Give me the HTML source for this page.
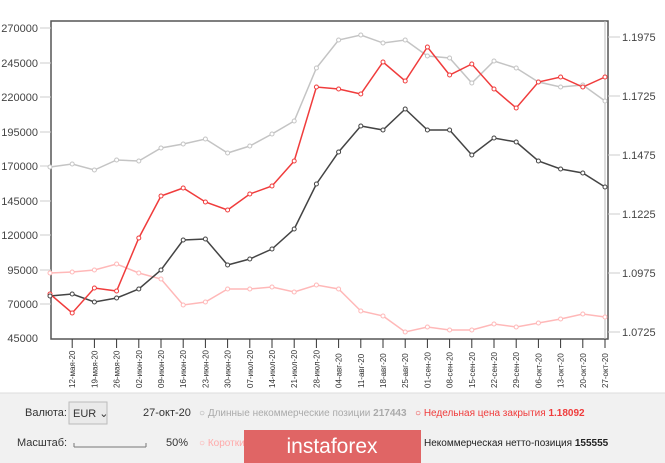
<!DOCTYPE html>
<html><head><meta charset="utf-8"><style>
body{margin:0;width:665px;height:463px;overflow:hidden;background:#fff;font-family:"Liberation Sans",sans-serif;}
svg{position:absolute;left:0;top:0}
</style></head><body>
<svg width="665" height="463" xmlns="http://www.w3.org/2000/svg" font-family="Liberation Sans, sans-serif">
<rect x="0" y="393" width="665" height="70" fill="#f1f1f1"/>
<line x1="0" y1="393" x2="665" y2="393" fill="none" stroke="#ddd"/>
<rect x="51" y="21" width="557" height="318" fill="#fff" stroke="#555" stroke-width="1.5"/>
<line x1="605" y1="21" x2="605" y2="339" stroke="#bbb"/>
<g font-size="11" fill="#444" text-anchor="end">
<text x="38" y="32">270000</text><text x="38" y="67">245000</text><text x="38" y="101">220000</text><text x="38" y="136">195000</text><text x="38" y="170">170000</text><text x="38" y="205">145000</text><text x="38" y="239">120000</text><text x="38" y="274">95000</text><text x="38" y="308">70000</text><text x="38" y="342">45000</text>
</g>
<g stroke="#ccc"><line x1="40" y1="28" x2="51" y2="28"/><line x1="40" y1="63" x2="51" y2="63"/><line x1="40" y1="97" x2="51" y2="97"/><line x1="40" y1="132" x2="51" y2="132"/><line x1="40" y1="166" x2="51" y2="166"/><line x1="40" y1="201" x2="51" y2="201"/><line x1="40" y1="235" x2="51" y2="235"/><line x1="40" y1="270" x2="51" y2="270"/><line x1="40" y1="304" x2="51" y2="304"/>
<line x1="608" y1="37" x2="620" y2="37"/><line x1="608" y1="96" x2="620" y2="96"/><line x1="608" y1="155" x2="620" y2="155"/><line x1="608" y1="214" x2="620" y2="214"/><line x1="608" y1="273" x2="620" y2="273"/><line x1="608" y1="332" x2="620" y2="332"/></g>
<g font-size="11" fill="#444">
<text x="622" y="41">1.1975</text><text x="622" y="100">1.1725</text><text x="622" y="159">1.1475</text><text x="622" y="218">1.1225</text><text x="622" y="277">1.0975</text><text x="622" y="336">1.0725</text>
</g>
<g id="ticks" stroke="#333"></g>
<g id="lbl" font-size="8" fill="#333"></g>
<polyline id="pk" fill="none" stroke="#ffb8b8" stroke-width="1.5"/>
<polyline id="gr" fill="none" stroke="#c4c4c4" stroke-width="1.5"/>
<polyline id="dk" fill="none" stroke="#444" stroke-width="1.5"/>
<polyline id="rd" fill="none" stroke="#f03c3c" stroke-width="1.5"/>
<g id="pts"></g>
<g font-size="11">
<text x="25" y="416" fill="#333">Валюта:</text>
<rect x="69" y="402" width="38" height="22" fill="#eaeaea" stroke="#bbb"/>
<text x="73" y="417" fill="#333">EUR ⌄</text>
<text x="143" y="416" fill="#333">27-окт-20</text>
<text x="199" y="416" fill="#aaa" font-size="10">○ Длинные некоммерческие позиции <tspan font-weight="bold">217443</tspan></text>
<text x="415" y="416" fill="#f03c3c" font-size="10">○ Недельная цена закрытия <tspan font-weight="bold">1.18092</tspan></text>
<text x="17" y="446" fill="#333">Масштаб:</text>
<path d="M74 447 H146 M74 443 v4 M146 443 v4" stroke="#777" fill="none"/>
<text x="166" y="446" fill="#333">50%</text>
<text x="199" y="446" fill="#ffaaaa" font-size="10">○ Коротки</text>
<rect x="244" y="430" width="177" height="33" fill="#e06565"/>
<text x="332" y="453" fill="#fff" font-size="21" text-anchor="middle">instaforex</text>
<text x="424" y="446" fill="#222" font-size="10">Некоммерческая нетто-позиция <tspan font-weight="bold">155555</tspan></text>
</g>
</svg>
<script>
const X=i=>50+i*22.2;
const d={
gr:[167,164,170,160,161,148,144,139,153,146,134,121,68,40,35,43,40,56,58,83,61,68,82,87,85,101],
rd:[294,313,288,291,238,196,188,202,210,194,186,161,87,89,94,62,81,47,75,64,89,108,82,77,87,77],
dk:[296,294,302,298,289,270,240,239,265,259,249,229,184,152,126,130,109,130,130,155,138,142,161,169,173,187],
pk:[273,272,270,264,273,279,305,302,289,289,287,292,285,289,311,316,332,327,330,330,324,327,323,319,314,317]};
const col={gr:"#c4c4c4",rd:"#f03c3c",dk:"#444",pk:"#ffb8b8"};
const ns="http://www.w3.org/2000/svg";let pts=document.getElementById("pts");
for(const k in d){document.getElementById(k).setAttribute("points",d[k].map((y,i)=>X(i)+","+y).join(" "));
d[k].forEach((y,i)=>{let c=document.createElementNS(ns,"circle");c.setAttribute("cx",X(i));c.setAttribute("cy",y);c.setAttribute("r",2);c.setAttribute("fill","#fff");c.setAttribute("stroke",col[k]);pts.appendChild(c);});}
const labs=["12-мая-20","19-мая-20","26-мая-20","02-июн-20","09-июн-20","16-июн-20","23-июн-20","30-июн-20","07-июл-20","14-июл-20","21-июл-20","28-июл-20","04-авг-20","11-авг-20","18-авг-20","25-авг-20","01-сен-20","08-сен-20","15-сен-20","22-сен-20","29-сен-20","06-окт-20","13-окт-20","20-окт-20","27-окт-20"];
let t=document.getElementById("ticks"),l=document.getElementById("lbl");
labs.forEach((s,j)=>{let x=X(j+1);let ln=document.createElementNS(ns,"line");ln.setAttribute("x1",x);ln.setAttribute("x2",x);ln.setAttribute("y1",339);ln.setAttribute("y2",348);t.appendChild(ln);
let tx=document.createElementNS(ns,"text");tx.setAttribute("transform",`translate(${x+3},388) rotate(-90)`);tx.textContent=s;l.appendChild(tx);});
</script>
</body></html>
